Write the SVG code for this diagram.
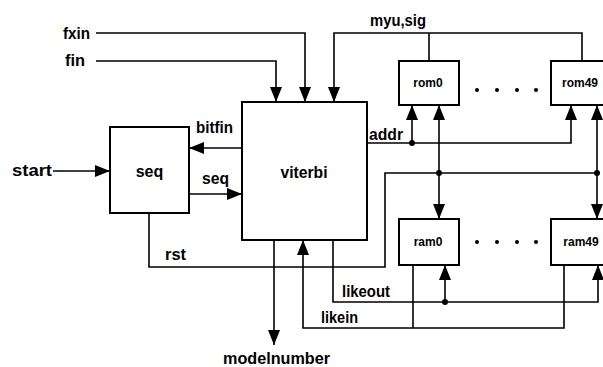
<svg xmlns="http://www.w3.org/2000/svg" width="603" height="367" viewBox="0 0 603 367">
<style>
.box{fill:#fff;stroke:#000;stroke-width:2}
.ln{fill:none;stroke:#000;stroke-width:1.6}
.arr{marker-end:url(#ah)}
text{font-family:"Liberation Sans",Arial,sans-serif;font-weight:bold;fill:#000}
.lb{font-size:16px}
.sm{font-size:12px}
.c{text-anchor:middle}
</style>
<defs>
<marker id="ah" markerUnits="userSpaceOnUse" markerWidth="16" markerHeight="12" refX="15" refY="6" orient="auto">
<path d="M0,0 L15,6 L0,12 z" fill="#000"/>
</marker>
</defs>
<g id="connectors">
<path class="ln arr" d="M96,33 H305 V102"/>
<path class="ln arr" d="M96,61 H276 V102"/>
<path class="ln arr" d="M582,61 V33 H334 V102"/>
<path class="ln" d="M429,61 V33"/>
<path class="ln arr" d="M242,148 H189"/>
<path class="ln arr" d="M189,194 H242"/>
<path class="ln arr" d="M53,171 H110"/>
<path class="ln" d="M149,213 V267 H385 V173 H597"/>
<path class="ln arr" d="M439,173 V105"/>
<path class="ln arr" d="M439,173 V219"/>
<path class="ln arr" d="M597,173 V105"/>
<path class="ln arr" d="M597,173 V219"/>
<path class="ln arr" d="M367,143 H571 V105"/>
<path class="ln arr" d="M412,143 V105"/>
<path class="ln arr" d="M274,240 V345"/>
<path class="ln arr" d="M333,240 V302 H598 V265"/>
<path class="ln arr" d="M445,302 V265"/>
<path class="ln arr" d="M564,265 V328 H303 V240"/>
<path class="ln" d="M413,265 V328"/>
<circle cx="439" cy="173" r="3"/>
<circle cx="597" cy="173" r="3"/>
<circle cx="412" cy="143" r="3"/>
<circle cx="445" cy="302" r="3"/>
</g>
<g id="seq">
<rect class="box" x="110" y="127" width="79" height="86"/>
<text class="lb c" x="149.5" y="177">seq</text>
</g>
<g id="viterbi">
<rect class="box" x="242" y="102" width="125" height="138"/>
<text class="lb c" x="304" y="178" textLength="47" lengthAdjust="spacingAndGlyphs">viterbi</text>
</g>
<g id="rom0">
<rect class="box" x="399" y="61" width="60" height="44"/>
<text class="sm c" x="428" y="87">rom0</text>
</g>
<g id="rom49">
<rect class="box" x="551" y="61" width="60" height="44"/>
<text class="sm c" x="580" y="87">rom49</text>
</g>
<g id="ram0">
<rect class="box" x="399" y="219" width="60" height="46"/>
<text class="sm c" x="428" y="246">ram0</text>
</g>
<g id="ram49">
<rect class="box" x="551" y="219" width="60" height="46"/>
<text class="sm c" x="581" y="246">ram49</text>
</g>
<g id="rom-dots">
<circle cx="477" cy="90" r="2"/><circle cx="497" cy="90" r="2"/><circle cx="517" cy="90" r="2"/><circle cx="536" cy="90" r="2"/>
</g>
<g id="ram-dots">
<circle cx="477" cy="242" r="2"/><circle cx="497" cy="242" r="2"/><circle cx="517" cy="242" r="2"/><circle cx="536" cy="242" r="2"/>
</g>
<g id="labels">
<text class="lb" x="63" y="39" textLength="27" lengthAdjust="spacingAndGlyphs">fxin</text>
<text class="lb" x="65" y="66" textLength="20" lengthAdjust="spacingAndGlyphs">fin</text>
<text class="lb" x="12" y="176" textLength="40" lengthAdjust="spacingAndGlyphs">start</text>
<text class="lb" x="196" y="133" textLength="37" lengthAdjust="spacingAndGlyphs">bitfin</text>
<text class="lb" x="202" y="184" textLength="27" lengthAdjust="spacingAndGlyphs">seq</text>
<text class="lb" x="369" y="140" textLength="34" lengthAdjust="spacingAndGlyphs">addr</text>
<text class="lb" x="370" y="26" textLength="56" lengthAdjust="spacingAndGlyphs">myu,sig</text>
<text class="lb" x="165" y="260" textLength="21" lengthAdjust="spacingAndGlyphs">rst</text>
<text class="lb" x="342" y="297" textLength="48" lengthAdjust="spacingAndGlyphs">likeout</text>
<text class="lb" x="321" y="323" textLength="37" lengthAdjust="spacingAndGlyphs">likein</text>
<text class="lb" x="223" y="364" textLength="107" lengthAdjust="spacingAndGlyphs">modelnumber</text>
</g>
</svg>
